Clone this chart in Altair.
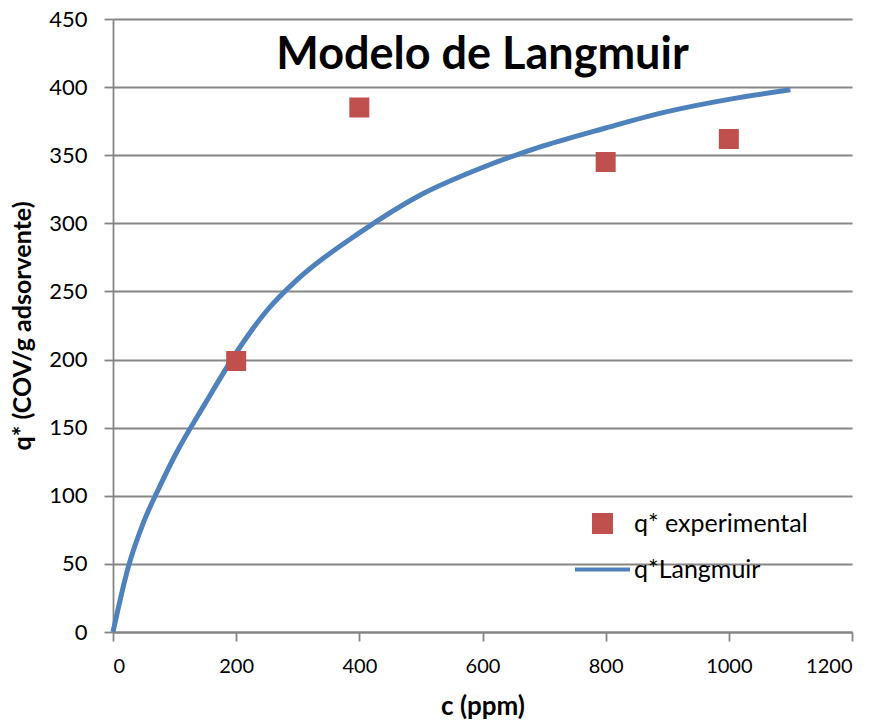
import altair as alt
import pandas as pd

# Experimental adsorption points
c_exp = [200, 400, 800, 1000]
q_exp = [199, 385, 345, 362]

# Langmuir model curve
c_model = [0, 25, 50, 75, 100, 150, 200, 250, 300, 400, 500, 600, 700, 800, 900, 1000, 1100]
q_model = [0, 48, 81, 106, 129, 168, 205, 236, 259, 293, 321, 341, 357, 370, 382, 391, 398]

series = ["q* experimental", "q*Langmuir"]
colors = ["#C0504D", "#4F81BD"]
shapes = ["square", "stroke"]
sizes = [289, 3025]

df_exp = pd.DataFrame({"c": c_exp, "q": q_exp, "serie": series[0]})
df_model = pd.DataFrame({"c": c_model, "q": q_model, "serie": series[1]})

FONT = "Lato"

x_enc = alt.X(
    "c:Q",
    scale=alt.Scale(domain=[0, 1200], nice=False),
    axis=alt.Axis(
        title="c (ppm)",
        values=list(range(0, 1201, 200)),
        format="d",
        grid=False,
        labelFontSize=20,
        labelPadding=15,
        titlePadding=17,
        titleFontSize=26,
    ),
)
y_enc = alt.Y(
    "q:Q",
    scale=alt.Scale(domain=[0, 450], nice=False),
    axis=alt.Axis(
        title="q* (COV/g adsorvente)",
        values=list(range(0, 451, 50)),
        format="d",
        grid=True,
        labelFontSize=22,
        labelPadding=17,
        titlePadding=13,
        titleFontSize=25,
    ),
)

legend = alt.Legend(
    title=None,
    orient="none",
    legendX=460,
    legendY=492,
    labelFont=FONT,
    labelFontSize=25,
    labelColor="black",
    labelLimit=400,
    symbolStrokeWidth=4,
    labelOffset=2,
    rowPadding=-4,
    padding=0,
)

fill_scale = alt.Scale(domain=series, range=colors)

points = alt.Chart(df_exp).mark_point(filled=True, opacity=1, strokeWidth=3).encode(
    x=x_enc,
    y=y_enc,
    fill=alt.Fill("serie:N", scale=fill_scale, legend=legend),
    stroke=alt.Stroke("serie:N", scale=fill_scale, legend=legend),
    shape=alt.Shape("serie:N", scale=alt.Scale(domain=series, range=shapes), legend=legend),
    size=alt.Size("serie:N", scale=alt.Scale(domain=series, range=sizes), legend=legend),
)

curve = alt.Chart(df_model).mark_line(strokeWidth=5, interpolate="monotone").encode(
    x=x_enc,
    y=y_enc,
    stroke=alt.Stroke("serie:N", scale=fill_scale, legend=legend),
)

chart = (
    alt.layer(curve, points)
    .properties(
        width=739,
        height=613,
        background="white",
        title=alt.TitleParams(
            "Modelo de Langmuir",
            font=FONT,
            fontSize=45,
            fontWeight="bold",
            color="black",
            anchor="middle",
            offset=-70,
        ),
        autosize=alt.AutoSizeParams(type="none"),
        padding={"left": 113, "top": 19, "right": 31, "bottom": 93},
    )
    .configure_view(stroke=None)
    .configure_axis(
        labelFont=FONT,
        labelColor="black",
        titleFont=FONT,
        titleFontWeight="bold",
        titleColor="black",
        domainColor="#868686",
        domainWidth=1.8,
        tickColor="#868686",
        tickWidth=1.8,
        tickSize=9,
        gridColor="#868686",
        gridWidth=1.8,
        gridOpacity=1,
    )
)

chart.save("out.html", embed_options={"renderer": "svg", "actions": False})
